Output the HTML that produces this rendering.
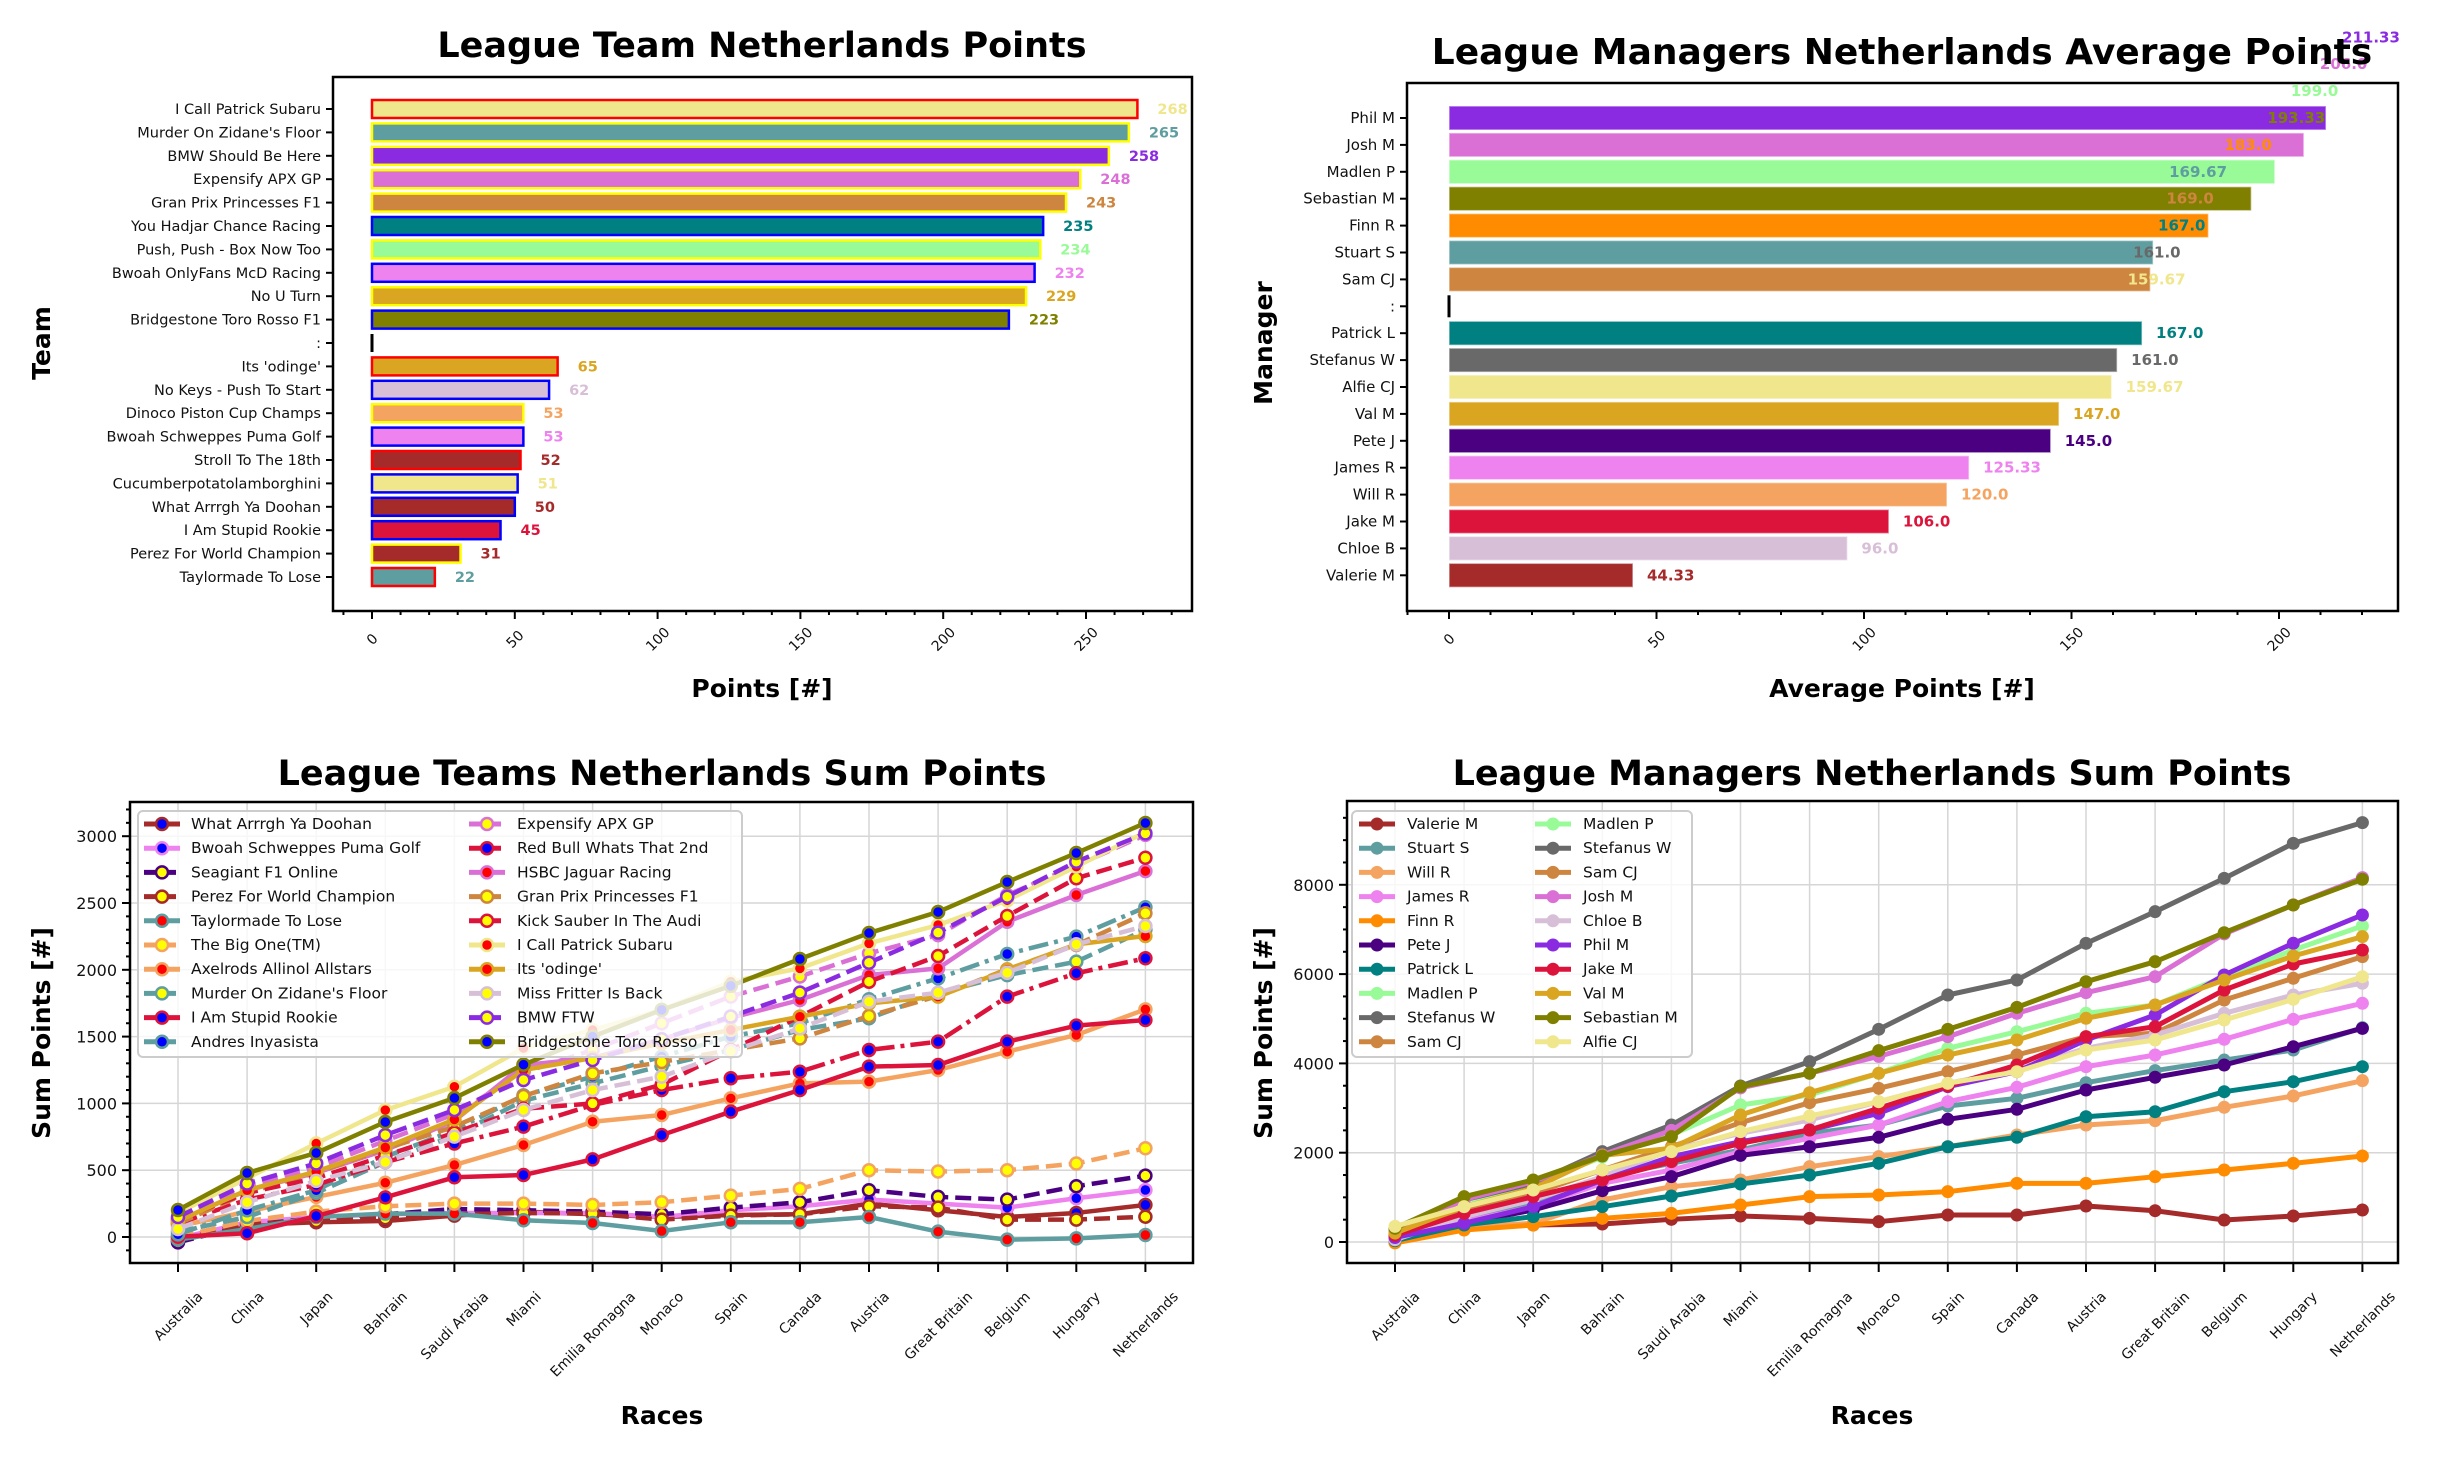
<!DOCTYPE html>
<html><head><meta charset="utf-8"><title>League Netherlands Charts</title>
<style>
html,body{margin:0;padding:0;background:#fff;}
svg{display:block;font-family:"DejaVu Sans","Liberation Sans",sans-serif;}
</style></head>
<body>
<svg id="fig" width="2438" height="1458" viewBox="0 0 2438 1458" xmlns="http://www.w3.org/2000/svg">
<rect width="2438" height="1458" fill="#fff"/>
</svg>
<script>
// ---------- Top-left: team points ----------
const teamNames = ["I Call Patrick Subaru","Murder On Zidane's Floor","BMW Should Be Here","Expensify APX GP","Gran Prix Princesses F1","You Hadjar Chance Racing","Push, Push - Box Now Too","Bwoah OnlyFans McD Racing","No U Turn","Bridgestone Toro Rosso F1",":","Its 'odinge'","No Keys - Push To Start","Dinoco Piston Cup Champs","Bwoah Schweppes Puma Golf","Stroll To The 18th","Cucumberpotatolamborghini","What Arrrgh Ya Doohan","I Am Stupid Rookie","Perez For World Champion","Taylormade To Lose"];
const teamPoints = [268,265,258,248,243,235,234,232,229,223,0,65,62,53,53,52,51,50,45,31,22];
const teamFill = ["khaki","cadetblue","blueviolet","orchid","peru","teal","palegreen","violet","goldenrod","olive","black","goldenrod","thistle","sandybrown","violet","brown","khaki","brown","crimson","brown","cadetblue"];
const teamEdge = ["red","yellow","yellow","yellow","yellow","blue","yellow","blue","yellow","blue","black","red","blue","yellow","blue","red","blue","blue","blue","yellow","red"];
const teamTicks = [0,50,100,150,200,250];

// ---------- Top-right: manager average ----------
const mgrNames = ["Phil M","Josh M","Madlen P","Sebastian M","Finn R","Stuart S","Sam CJ",":","Patrick L","Stefanus W","Alfie CJ","Val M","Pete J","James R","Will R","Jake M","Chloe B","Valerie M"];
const mgrAvg = [211.33,206.0,199.0,193.33,183.0,169.67,169.0,0,167.0,161.0,159.67,147.0,145.0,125.33,120.0,106.0,96.0,44.33];
const mgrColor = ["blueviolet","orchid","palegreen","olive","darkorange","cadetblue","peru","black","teal","dimgray","khaki","goldenrod","indigo","violet","sandybrown","crimson","thistle","brown"];
const mgrTopLabels = ["211.33","206.0","199.0","193.33","183.0","169.67","169.0","167.0","161.0","159.67"];
const mgrTopLabelVals = [211.33,206.0,199.0,193.33,183.0,169.67,169.0,167.0,161.0,159.67];
const mgrTopLabelColors = ["blueviolet","orchid","palegreen","olive","darkorange","cadetblue","peru","teal","dimgray","khaki"];
const mgrLowLabels = ["167.0","161.0","159.67","147.0","145.0","125.33","120.0","106.0","96.0","44.33"];
const mgrTicks = [0,50,100,150,200];

// ---------- Races ----------
const races = ["Australia","China","Japan","Bahrain","Saudi Arabia","Miami","Emilia Romagna","Monaco","Spain","Canada","Austria","Great Britain","Belgium","Hungary","Netherlands"];

// ---------- Bottom-left: team sums ----------
const tsNames = ["What Arrrgh Ya Doohan","Bwoah Schweppes Puma Golf","Seagiant F1 Online","Perez For World Champion","Taylormade To Lose","The Big One(TM)","Axelrods Allinol Allstars","Murder On Zidane's Floor","I Am Stupid Rookie","Andres Inyasista","Expensify APX GP","Red Bull Whats That 2nd","HSBC Jaguar Racing","Gran Prix Princesses F1","Kick Sauber In The Audi","I Call Patrick Subaru","Its 'odinge'","Miss Fritter Is Back","BMW FTW","Bridgestone Toro Rosso F1"];
const tsColor = ["brown","violet","indigo","brown","cadetblue","sandybrown","sandybrown","cadetblue","crimson","cadetblue","orchid","crimson","orchid","peru","crimson","khaki","goldenrod","thistle","blueviolet","olive"];
const tsFace = ["blue","blue","yellow","yellow","red","yellow","red","yellow","blue","blue","yellow","blue","red","yellow","yellow","red","red","yellow","yellow","blue"];
const tsStyle = ["solid","solid","dash","dash","solid","dash","solid","dash","solid","dashdot","dash","dashdot","solid","dash","dash","solid","solid","dash","dash","solid"];
const tsDoohan   = [-30,90,110,120,160,190,170,150,165,170,250,200,150,180,240];
const tsBwoah    = [-10,110,150,170,180,180,180,150,200,230,280,250,220,290,352];
const tsSeagiant = [-40,90,140,170,210,200,190,170,220,260,350,300,280,380,459];
const tsPerez    = [-20,100,120,140,170,180,175,130,160,170,230,220,130,130,152];
const tsTaylor   = [-20,60,150,175,175,125,105,45,110,110,150,40,-20,-10,15];
const tsBigOne   = [0,120,190,230,250,250,240,260,310,360,500,490,500,550,664];
const tsAxelrods = [80,190,300,406,539,689,863,913,1038,1150,1163,1250,1387,1512,1704];
const tsMurder   = [40,150,330,560,760,1020,1150,1280,1400,1550,1637,1825,1960,2061,2300];
const tsRookie   = [2,28,157,297,447,464,581,763,938,1100,1275,1287,1462,1582,1624];
const tsAndres   = [20,200,350,600,800,1060,1200,1350,1500,1600,1780,1936,2118,2248,2468];
const tsExpensify= [140,380,520,720,920,1230,1400,1600,1800,1950,2123,2260,2560,2780,3010];
const tsRedBull  = [100,280,390,560,700,826,988,1100,1188,1237,1400,1462,1799,1974,2086];
const tsHSBC     = [120,350,480,650,870,1287,1340,1480,1640,1774,1961,2011,2360,2560,2739];
const tsGPP      = [100,330,480,660,826,1055,1225,1310,1400,1487,1654,1804,2003,2186,2423];
const tsKick     = [130,330,440,610,780,960,1000,1140,1400,1649,1911,2103,2403,2685,2839];
const tsSubaru   = [180,440,700,950,1125,1414,1549,1699,1911,2011,2198,2335,2520,2772,3030];
const tsOdinge   = [120,350,490,670,880,1250,1340,1450,1550,1649,1749,1799,2000,2190,2253];
const tsFritter  = [60,260,420,560,751,951,1100,1200,1390,1562,1761,1829,1978,2190,2328];
const tsBMW      = [150,400,551,763,951,1175,1325,1480,1650,1829,2053,2278,2547,2809,3021];
const tsOlive    = [202,479,629,861,1040,1290,1500,1700,1880,2081,2275,2433,2657,2874,3099];
const tsSeries = [tsDoohan,tsBwoah,tsSeagiant,tsPerez,tsTaylor,tsBigOne,tsAxelrods,tsMurder,tsRookie,tsAndres,tsExpensify,tsRedBull,tsHSBC,tsGPP,tsKick,tsSubaru,tsOdinge,tsFritter,tsBMW,tsOlive];
const tsTicks = [0,500,1000,1500,2000,2500,3000];

// ---------- Bottom-right: manager sums ----------
const msNames = ["Valerie M","Stuart S","Will R","James R","Finn R","Pete J","Patrick L","Madlen P","Stefanus W","Sam CJ","Josh M","Chloe B","Phil M","Jake M","Val M","Sebastian M","Alfie CJ"];
const msColor = ["brown","cadetblue","sandybrown","violet","darkorange","indigo","teal","palegreen","dimgray","peru","orchid","thistle","blueviolet","crimson","goldenrod","olive","khaki"];
const msValerie = [0,306,381,403,508,582,530,455,605,605,806,701,493,582,717];
const msStuart  = [100,490,830,1463,1762,2060,2434,2620,3046,3218,3568,3839,4075,4300,4800];
const msWill    = [20,344,418,941,1239,1389,1687,1911,2134,2396,2620,2717,3017,3270,3613];
const msJames   = [80,455,791,1314,1612,2023,2322,2620,3142,3465,3926,4188,4540,4987,5346];
const msFinn    = [-20,269,381,530,642,829,1015,1053,1127,1314,1314,1463,1612,1762,1926];
const msPete    = [60,418,717,1149,1463,1940,2134,2345,2748,2972,3404,3689,3964,4374,4785];
const msPatrick = [30,381,567,791,1030,1299,1500,1762,2134,2345,2806,2918,3366,3590,3926];
const msMadlen  = [200,800,1300,1900,2400,3068,3292,3778,4338,4710,5122,5308,5942,6540,7077];
const msStefanus= [269,941,1314,2023,2620,3494,4039,4763,5532,5868,6689,7398,8145,8929,9392];
const msSam     = [180,680,1090,1612,2134,2672,3120,3442,3814,4188,4600,4674,5420,5906,6390];
const msJosh    = [250,950,1350,1950,2500,3450,3780,4158,4598,5122,5584,5942,6900,7550,8160];
const msChloe   = [50,567,941,1464,2060,2434,2732,3142,3554,3852,4338,4636,5122,5532,5794];
const msPhil    = [100,418,791,1388,1911,2247,2508,2882,3479,3814,4524,5084,5980,6690,7324];
const msJake    = [150,642,1015,1389,1799,2210,2508,2994,3494,3964,4598,4822,5644,6226,6540];
const msVal     = [200,791,1202,1940,2098,2844,3344,3778,4188,4524,5010,5308,5868,6405,6838];
const msSeb     = [306,1015,1389,1926,2359,3479,3778,4285,4763,5256,5830,6278,6927,7548,8123];
const msAlfie   = [350,791,1165,1612,2023,2471,2822,3142,3554,3814,4300,4524,4972,5435,5942];
const msSeries = [msValerie,msStuart,msWill,msJames,msFinn,msPete,msPatrick,msMadlen,msStefanus,msSam,msJosh,msChloe,msPhil,msJake,msVal,msSeb,msAlfie];
const msLegend = ["Valerie M","Stuart S","Will R","James R","Finn R","Pete J","Patrick L","Madlen P","Stefanus W","Sam CJ","Madlen P","Stefanus W","Sam CJ","Josh M","Chloe B","Phil M","Jake M","Val M","Sebastian M","Alfie CJ"];
const msTicks = [0,2000,4000,6000,8000];

// ---------- helpers ----------
const NS = "http://www.w3.org/2000/svg";
const svg = document.getElementById('fig');
function mk(tag, attrs, parent){
  const e = document.createElementNS(NS, tag);
  for (const k in attrs) e.setAttribute(k, attrs[k]);
  (parent||svg).appendChild(e);
  return e;
}
function txt(s, attrs, parent){ const t = mk('text', attrs, parent); t.textContent = s; return t; }
function dashFor(style){ return style==='dash' ? '16,7' : (style==='dashdot' ? '20,6,4,6' : 'none'); }

// axes geometry
const TL = {x0:333,x1:1192,y0:77,y1:611};
const TR = {x0:1407,x1:2398,y0:83,y1:611};
const BL = {x0:130,x1:1193,y0:802,y1:1263};
const BR = {x0:1347,x1:2398,y0:801,y1:1263};
const xTL = v => 372 + v*2.856;
const yTL = i => 109 + i*23.4;
const xTR = v => 1449 + v*4.15;
const yTR = i => 118 + i*26.9;
const xBL = i => 178 + i*69.1;
const yBL = v => 1237 - v*0.1336;
const xBR = i => 1395 + i*69.1;
const yBR = v => 1242 - v*0.04465;

function frame(A, name){
  const r = mk('rect',{x:A.x0,y:A.y0,width:A.x1-A.x0,height:A.y1-A.y0,fill:'none',stroke:'#000','stroke-width':2.5});
  
  
}
function title(s, x, y, size, name){
  const t = txt(s,{x:x,y:y,'text-anchor':'middle','font-size':size,'font-weight':'bold',fill:'#000'});
  
  
}
function axisLabel(s, x, y, rot, name){
  const t = txt(s,{x:x,y:y,'text-anchor':'middle','font-size':25,'font-weight':'bold',fill:'#000',transform: rot? `rotate(-90 ${x} ${y})`:''});
  
  
}

// ---------- draw top-left ----------
(function(){
  const g = mk('g',{});
  
  
  teamNames.forEach((n,i)=>{
    const y = yTL(i);
    if (teamPoints[i] === 0) {
      const l = mk('line',{x1:xTL(0),x2:xTL(0),y1:y-9,y2:y+9,stroke:'#000','stroke-width':3},g);
      
      
    } else {
      const r = mk('rect',{x:xTL(0),y:y-9,width:xTL(teamPoints[i])-xTL(0),height:18,fill:teamFill[i],stroke:teamEdge[i],'stroke-width':2.5},g);
      
      
      const v = txt(String(teamPoints[i]),{x:xTL(teamPoints[i])+20,y:y+5,'font-size':14.5,'font-weight':'bold',fill:teamFill[i]},g);
      
      
    }
    mk('line',{x1:TL.x0-7,x2:TL.x0,y1:y,y2:y,stroke:'#000','stroke-width':2},g);
    const t = txt(n,{x:TL.x0-12,y:y+5,'text-anchor':'end','font-size':14.5,fill:'#111'},g);
    
    
  });
  for (let v=-10; v<=280; v+=10){
    const x = xTL(v); if (x<TL.x0||x>TL.x1) continue;
    mk('line',{x1:x,x2:x,y1:TL.y1,y2:TL.y1+(v%50===0?8:4),stroke:'#000','stroke-width':2},g);
  }
  teamTicks.forEach(v=>{
    const x = xTL(v), y = TL.y1+28;
    const t = txt(String(v),{x:x,y:y+5,'text-anchor':'middle','font-size':14,fill:'#111',transform:`rotate(-45 ${x} ${y})`},g);
    
    
  });
})();
frame(TL,'team-points-axes');
title('League Team Netherlands Points', 762, 57, 35, 'team-points-title');
axisLabel('Points [#]', 762, 697, false, 'team-points-x-axis-title');
axisLabel('Team', 50, 343, true, 'team-points-y-axis-title');

// ---------- draw top-right ----------
(function(){
  const g = mk('g',{});
  
  
  mgrNames.forEach((n,i)=>{
    const y = yTR(i);
    if (mgrAvg[i] === 0) {
      const l = mk('line',{x1:xTR(0),x2:xTR(0),y1:y-11,y2:y+11,stroke:'#000','stroke-width':3},g);
      
      
    } else {
      const r = mk('rect',{x:xTR(0),y:y-12,width:xTR(mgrAvg[i])-xTR(0),height:24,fill:mgrColor[i],stroke:'#fff','stroke-opacity':0.5,'stroke-width':1.5},g);
      
      
    }
    mk('line',{x1:TR.x0-7,x2:TR.x0,y1:y,y2:y,stroke:'#000','stroke-width':2},g);
    const t = txt(n,{x:TR.x0-12,y:y+5,'text-anchor':'end','font-size':15,fill:'#111'},g);
    
    
  });
  mgrTopLabels.forEach((s,k)=>{
    const t = txt(s,{x:xTR(mgrTopLabelVals[k])+16,y:yTR(k-3)+5,'font-size':15,'font-weight':'bold',fill:mgrTopLabelColors[k]},g);
    
    
  });
  mgrLowLabels.forEach((s,k)=>{
    const i = 8+k;
    const t = txt(s,{x:xTR(mgrAvg[i])+14,y:yTR(i)+5,'font-size':15,'font-weight':'bold',fill:mgrColor[i]},g);
    
    
  });
  for (let v=-10; v<=230; v+=10){
    const x = xTR(v); if (x<TR.x0||x>TR.x1) continue;
    mk('line',{x1:x,x2:x,y1:TR.y1,y2:TR.y1+(v%50===0?8:4),stroke:'#000','stroke-width':2},g);
  }
  mgrTicks.forEach(v=>{
    const x = xTR(v), y = TR.y1+28;
    const t = txt(String(v),{x:x,y:y+5,'text-anchor':'middle','font-size':14,fill:'#111',transform:`rotate(-45 ${x} ${y})`},g);
    
    
  });
})();
frame(TR,'manager-average-axes');
title('League Managers Netherlands Average Points', 1902, 64, 36, 'manager-average-title');
axisLabel('Average Points [#]', 1902, 697, false, 'manager-average-x-axis-title');
axisLabel('Manager', 1272, 343, true, 'manager-average-y-axis-title');

// ---------- line chart generic ----------
function lineChart(A, xs, ys, ticks, minorStep, yMin, yMax, series, colors, faces, styles, lw, mr, gname){
  const g = mk('g',{});
  
  
  // grid
  races.forEach((r,i)=> mk('line',{x1:xs(i),x2:xs(i),y1:A.y0,y2:A.y1,stroke:'#d6d6d6','stroke-width':1.5},g));
  ticks.forEach(v=> mk('line',{x1:A.x0,x2:A.x1,y1:ys(v),y2:ys(v),stroke:'#d6d6d6','stroke-width':1.5},g));
  // y ticks
  for (let v=yMin; v<=yMax; v+=minorStep){
    const y = ys(v); if (y<A.y0||y>A.y1) continue;
    const major = ticks.indexOf(v)>=0;
    mk('line',{x1:A.x0-(major?8:4),x2:A.x0,y1:y,y2:y,stroke:'#000','stroke-width':2},g);
  }
  ticks.forEach(v=>{
    const t = txt(String(v),{x:A.x0-13,y:ys(v)+6,'text-anchor':'end','font-size':16,fill:'#111'},g);
    
    
  });
  // x ticks
  races.forEach((r,i)=>{
    const x = xs(i);
    mk('line',{x1:x,x2:x,y1:A.y1,y2:A.y1+9,stroke:'#000','stroke-width':2},g);
    const t = txt(r,{x:x,y:0,'text-anchor':'middle','font-size':14,fill:'#111'},g);
    
    
    const w = t.getComputedTextLength();
    const half = (w*0.7071 + 14*0.85)/2;
    const cy = A.y1 + 25 + half;
    t.setAttribute('y', cy+5);
    t.setAttribute('transform', `rotate(-45 ${x} ${cy})`);
  });
  // series
  series.forEach((arr,si)=>{
    const pts = arr.map((v,i)=> xs(i)+','+ys(v)).join(' ');
    const pl = mk('polyline',{points:pts,fill:'none',stroke:colors[si],'stroke-width':lw,'stroke-dasharray':dashFor(styles?styles[si]:'solid'),'stroke-linejoin':'round'},g);
    
    
    arr.forEach((v,i)=>{
      const c = mk('circle',{cx:xs(i),cy:ys(v),r:mr,fill:faces?faces[si]:colors[si],stroke:colors[si],'stroke-width':faces?2.5:0},g);
      
      
    });
  });
}
lineChart(BL, xBL, yBL, tsTicks, 100, -200, 3300, tsSeries, tsColor, tsFace, tsStyle, 4.5, 6, 'team-sum-chart');
lineChart(BR, xBR, yBR, msTicks, 500, -500, 10000, msSeries, msColor, null, null, 5, 6.5, 'manager-sum-chart');
frame(BL,'team-sum-axes');
frame(BR,'manager-sum-axes');
title('League Teams Netherlands Sum Points', 662, 785, 35, 'team-sum-title');
title('League Managers Netherlands Sum Points', 1872, 785, 35, 'manager-sum-title');
axisLabel('Races', 662, 1424, false, 'team-sum-x-axis-title');
axisLabel('Races', 1872, 1424, false, 'manager-sum-x-axis-title');
axisLabel('Sum Points [#]', 50, 1033, true, 'team-sum-y-axis-title');
axisLabel('Sum Points [#]', 1272, 1033, true, 'manager-sum-y-axis-title');

// ---------- legends ----------
function legend(box, entries, colCount, colHandleX, colTextX, y0, dy, getStyle, name){
  const g = mk('g',{});
  
  
  mk('rect',{x:box[0],y:box[1],width:box[2],height:box[3],rx:5,fill:'#fff','fill-opacity':0.8,stroke:'#ccc','stroke-width':2},g);
  const perCol = Math.ceil(entries.length/colCount);
  entries.forEach((n,k)=>{
    const c = Math.floor(k/perCol), r = k%perCol;
    const y = y0 + r*dy, hx = colHandleX[c];
    const st = getStyle(n,k);
    const e = mk('g',{},g);
    
    
    mk('line',{x1:hx,x2:hx+36,y1:y,y2:y,stroke:st.color,'stroke-width':st.lw,'stroke-dasharray':st.dash},e);
    mk('circle',{cx:hx+18,cy:y,r:st.r,fill:st.face,stroke:st.color,'stroke-width':st.sw},e);
    txt(n,{x:colTextX[c],y:y+5,'font-size':15.5,fill:'#111'},e);
  });
}
legend([138,811,604,246], tsNames, 2, [144,469], [191,517], 824, 24.2,
  (n,k)=>({color:tsColor[k],face:tsFace[k],lw:5,r:6,sw:2.5,dash:tsStyle[k]==='solid'?'none':'13,6'}), 'team-sum-legend');
legend([1352,811,340,246], msLegend, 2, [1359,1535], [1407,1583], 824, 24.2,
  (n,k)=>{ const i = msNames.indexOf(n); return {color:msColor[i],face:msColor[i],lw:5,r:6.5,sw:0,dash:'none'}; }, 'manager-sum-legend');
</script>
</body></html>
